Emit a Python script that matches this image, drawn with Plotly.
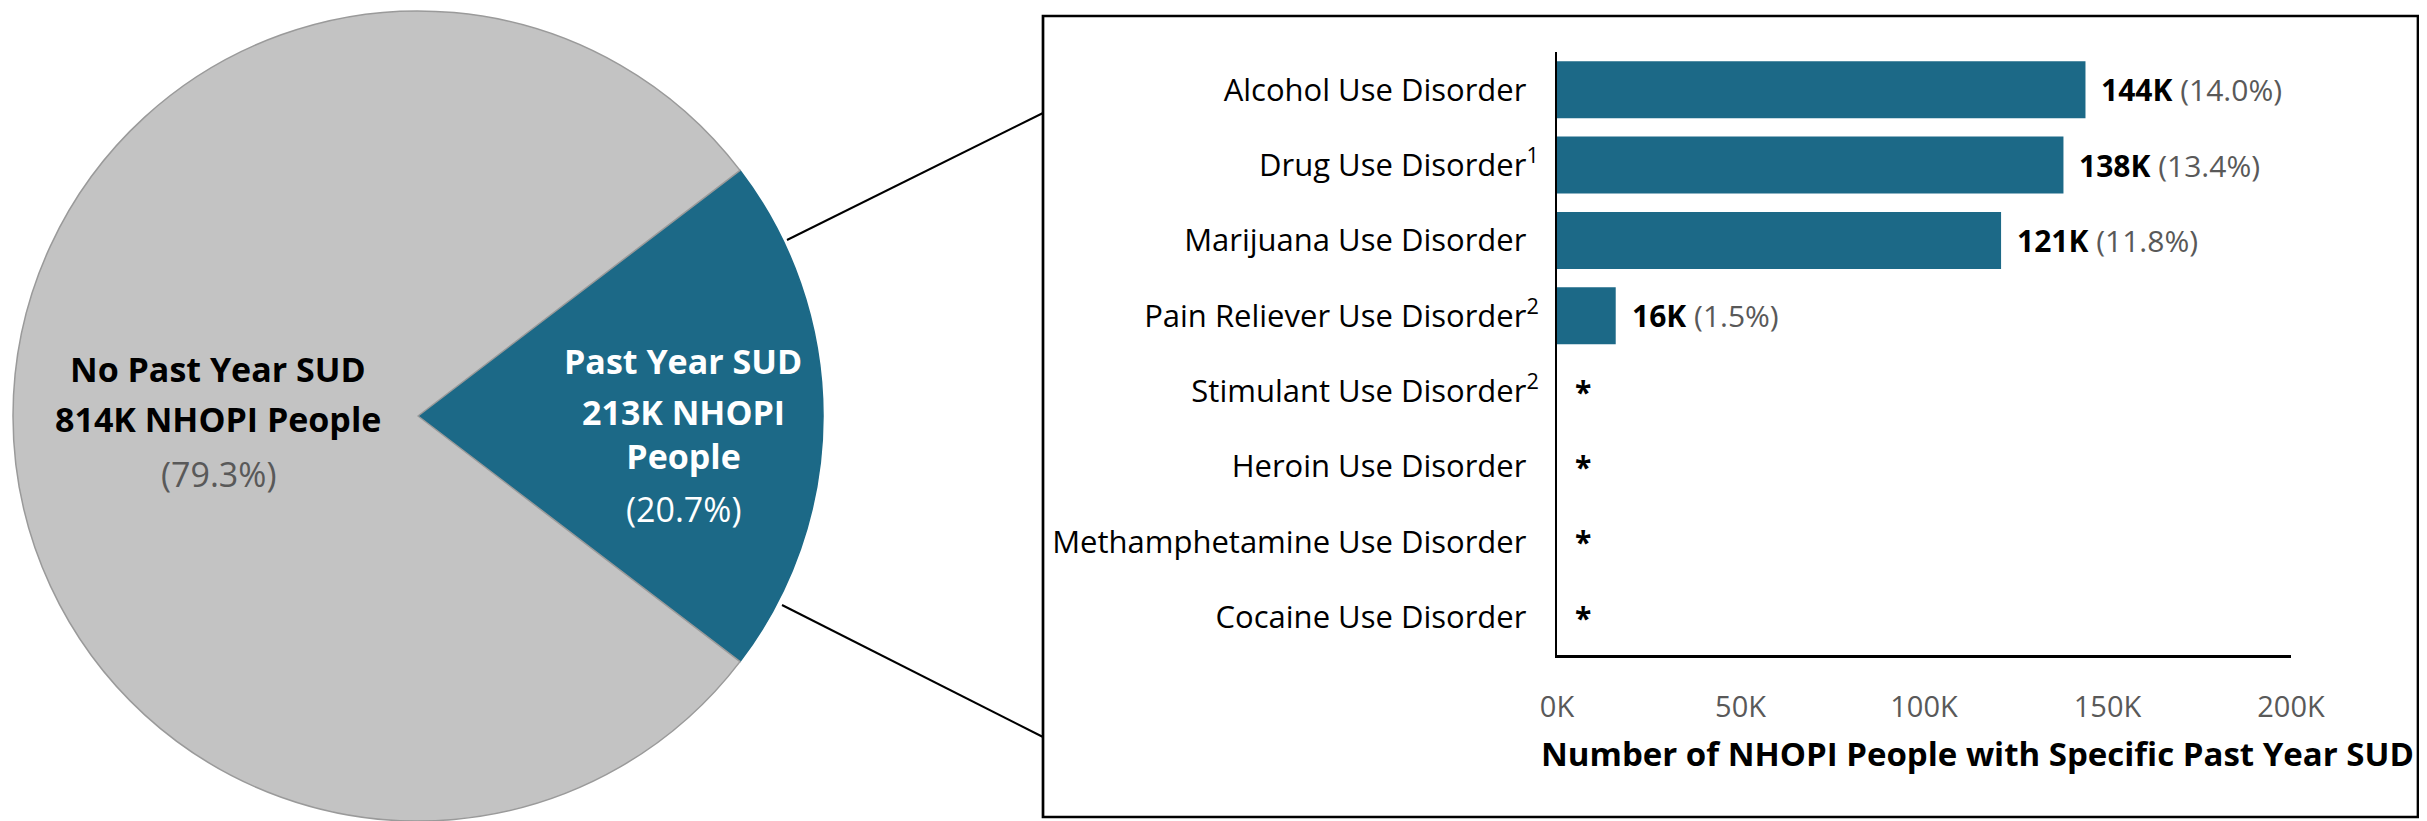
import plotly.graph_objects as go

# ---------------- data ----------------
pie_labels = ["Past Year SUD", "No Past Year SUD"]
pie_counts = ["213K", "814K"]
pie_values = [213, 814]
pie_pcts = ["20.7%", "79.3%"]

categories = [
    "Alcohol Use Disorder",
    "Drug Use Disorder",
    "Marijuana Use Disorder",
    "Pain Reliever Use Disorder",
    "Stimulant Use Disorder",
    "Heroin Use Disorder",
    "Methamphetamine Use Disorder",
    "Cocaine Use Disorder",
]
footnotes = ["", "1", "", "2", "2", "", "", ""]
bar_values = [144000, 138000, 121000, 16000, None, None, None, None]
bar_counts = ["144K", "138K", "121K", "16K", None, None, None, None]
bar_pcts = ["14.0%", "13.4%", "11.8%", "1.5%", None, None, None, None]
x_tickvals = [0, 50000, 100000, 150000, 200000]
x_ticktext = ["0K", "50K", "100K", "150K", "200K"]
x_title = "Number of NHOPI People with Specific Past Year SUD"

TEAL = "#1C6987"
GRAY = "#C3C3C3"
PCT_GRAY = "#595959"
FONT = "Open Sans"

# page body has an 8px margin: size the figure so it fits the window exactly
OFF = 8
W, H = 2427 - OFF, 821 - OFF
MT, MB = 3, 0
PH = H - MT - MB


def px(xs):
    """screen x (pixels) -> paper fraction"""
    return (xs - OFF) / W


def py(ys):
    """screen y (pixels) -> paper fraction"""
    return (OFF + H - MB - ys) / PH


fig = go.Figure()

# ---------------- pie ----------------
start = 90 - 0.5 * 360 * pie_values[0] / sum(pie_values)
pie_cx = 418
pie_r = PH / 2
fig.add_trace(go.Pie(
    labels=pie_labels,
    values=pie_values,
    sort=False,
    direction="clockwise",
    rotation=start,
    marker=dict(colors=[TEAL, GRAY], line=dict(color=[TEAL, "#9A9A9A"], width=1.5)),
    textinfo="none",
    hoverinfo="label+value",
    domain=dict(x=[px(pie_cx - pie_r), px(pie_cx + pie_r)], y=[0, 1]),
    showlegend=False,
))

# ---------------- bars ----------------
ticktext = []
for c, f in zip(categories, footnotes):
    if f:
        ticktext.append(f"{c}<sup>{f}</sup>")
    else:
        ticktext.append(f"{c}<sup><span style='color:rgba(0,0,0,0)'>1</span></sup>")

fig.add_trace(go.Bar(
    x=[v if v is not None else 0 for v in bar_values],
    y=categories,
    orientation="h",
    marker=dict(color=TEAL, line=dict(width=0)),
    xaxis="x2",
    yaxis="y2",
    showlegend=False,
    hoverinfo="x+y",
))

annotations = []
for c, v, n, p in zip(categories, bar_values, bar_counts, bar_pcts):
    if v is None:
        txt = "<b>*</b>"
        xv = 0
        shift = 16
    else:
        txt = f"<b>{n}</b> <span style='color:{PCT_GRAY}'>({p})</span>"
        xv = v
        shift = 14
    annotations.append(dict(
        x=xv, y=c, xref="x2", yref="y2", text=txt, showarrow=False,
        xanchor="left", yanchor="middle", xshift=shift,
        font=dict(family=FONT, size=30, color="black"),
    ))

# axis title
annotations.append(dict(
    x=px(1977), y=py(753), xref="paper", yref="paper",
    text=f"<b>{x_title}</b>", showarrow=False,
    xanchor="center", yanchor="middle",
    font=dict(family=FONT, size=33, color="black"),
))

# pie labels
no_idx, yes_idx = 1, 0
left_x = px(218)
pie_ann = [
    dict(x=left_x, y=py(369), text=f"<b>{pie_labels[no_idx]}</b>", font=dict(size=34, color="black", family=FONT)),
    dict(x=left_x, y=py(419), text=f"<b>{pie_counts[no_idx]} NHOPI People</b>", font=dict(size=34, color="black", family=FONT)),
    dict(x=left_x, y=py(474), text=f"({pie_pcts[no_idx]})", font=dict(size=34, color=PCT_GRAY, family=FONT)),
]
right_x = px(683)
pie_ann += [
    dict(x=right_x, y=py(361), text=f"<b>{pie_labels[yes_idx]}</b>", font=dict(size=34, color="white", family=FONT)),
    dict(x=right_x, y=py(434), text=f"<b>{pie_counts[yes_idx]} NHOPI<br>People</b>", font=dict(size=34, color="white", family=FONT)),
    dict(x=right_x, y=py(509), text=f"({pie_pcts[yes_idx]})", font=dict(size=34, color="white", family=FONT)),
]
for a in pie_ann:
    a.update(xref="paper", yref="paper", showarrow=False, xanchor="center", yanchor="middle")
annotations += pie_ann

shapes = [
    # frame around bar chart
    dict(type="rect", xref="paper", yref="paper",
         x0=px(1043), x1=px(2418), y0=py(817), y1=py(16),
         line=dict(color="black", width=2.7), fillcolor="rgba(0,0,0,0)", layer="below"),
    # connector lines
    dict(type="line", xref="paper", yref="paper",
         x0=px(787), y0=py(240), x1=px(1043), y1=py(113),
         line=dict(color="black", width=2)),
    dict(type="line", xref="paper", yref="paper",
         x0=px(782), y0=py(605), x1=px(1043), y1=py(737),
         line=dict(color="black", width=2)),
]

fig.update_layout(
    width=W, height=H,
    margin=dict(l=0, r=0, t=MT, b=MB, pad=0, autoexpand=False),
    paper_bgcolor="white", plot_bgcolor="white",
    font=dict(family=FONT, color="black"),
    bargap=0.243,
    showlegend=False,
    xaxis2=dict(
        domain=[px(1557), px(2291)], anchor="y2",
        range=[0, 200000], tickvals=x_tickvals, ticktext=x_ticktext,
        showgrid=False, zeroline=False, showline=True, linecolor="black", linewidth=2.5,
        ticks="", tickfont=dict(family=FONT, size=29, color=PCT_GRAY),
        ticklabelstandoff=24, automargin=False, fixedrange=True,
    ),
    yaxis2=dict(
        domain=[py(655), py(52)], anchor="x2",
        categoryorder="array", categoryarray=categories, autorange="reversed",
        tickvals=categories, ticktext=ticktext,
        showgrid=False, zeroline=False, showline=True, linecolor="black", linewidth=2,
        ticks="", tickfont=dict(family=FONT, size=31, color="black"),
        ticklabelstandoff=10, automargin=False, fixedrange=True,
    ),
    annotations=annotations,
    shapes=shapes,
)

fig.write_html("out.html")
